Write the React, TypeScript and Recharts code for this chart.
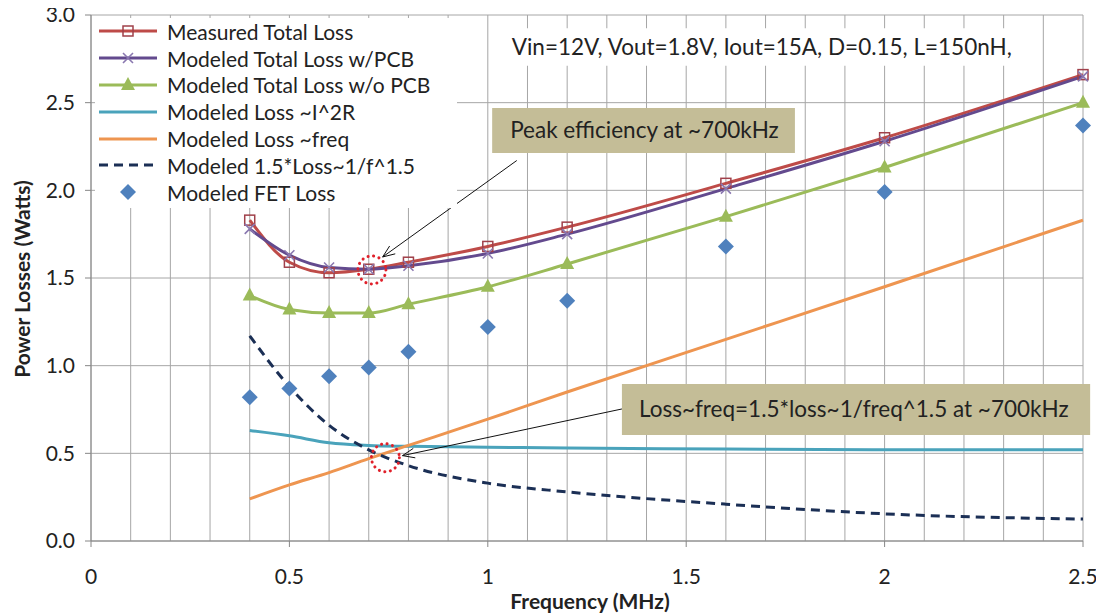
import React from 'react';
import {
  ComposedChart,
  Line,
  XAxis,
  YAxis,
  CartesianGrid,
  ReferenceArea,
  ReferenceLine,
  ReferenceDot,
} from 'recharts';

// switching frequency (MHz)
const freqs = [0.4, 0.5, 0.6, 0.7, 0.8, 1.0, 1.2, 1.6, 2.0, 2.5];

// losses (W)
const measuredTotal = [1.83, 1.59, 1.53, 1.55, 1.59, 1.68, 1.79, 2.04, 2.3, 2.66];
const modeledWithPcb = [1.78, 1.63, 1.56, 1.55, 1.57, 1.64, 1.75, 2.01, 2.28, 2.65];
const modeledWithoutPcb = [1.4, 1.32, 1.3, 1.3, 1.35, 1.45, 1.58, 1.85, 2.13, 2.5];
const lossI2R = [0.63, 0.6, 0.56, 0.545, 0.54, 0.535, 0.53, 0.525, 0.52, 0.52];
const lossFreq = [0.24, 0.32, 0.39, 0.47, 0.545, 0.695, 0.85, 1.15, 1.45, 1.83];
const lossInvFreq = [1.17, 0.88, 0.66, 0.52, 0.43, 0.33, 0.28, 0.21, 0.155, 0.125];
const fetLoss = [0.82, 0.87, 0.94, 0.99, 1.08, 1.22, 1.37, 1.68, 1.99, 2.37];

const xMajorTicks = [0, 0.5, 1, 1.5, 2, 2.5];
const xMinorTicks = [
  0, 0.1, 0.2, 0.3, 0.4, 0.5, 0.6, 0.7, 0.8, 0.9, 1, 1.1, 1.2, 1.3, 1.4, 1.5, 1.6, 1.7, 1.8, 1.9, 2, 2.1,
  2.2, 2.3, 2.4, 2.5,
];
const yTicks = [0, 0.5, 1, 1.5, 2, 2.5, 3];

const data = freqs.map((f, i) => ({
  f,
  measured: measuredTotal[i],
  withPcb: modeledWithPcb[i],
  withoutPcb: modeledWithoutPcb[i],
  i2r: lossI2R[i],
  freq: lossFreq[i],
  invFreq: lossInvFreq[i],
  fet: fetLoss[i],
}));

const FONT = 'Lato, "Open Sans", sans-serif';
const GRID = '#a6a6a6';
const AXIS = '#868686';

const C = {
  measured: '#BE4B48',
  measuredMark: '#A0404A',
  withPcb: '#634A8E',
  withPcbMark: '#8A78B0',
  withoutPcb: '#9BBB59',
  i2r: '#4AA3BB',
  freq: '#EE9550',
  invFreq: '#1B2F55',
  fet: '#4F81BD',
  callout: '#C4BD97',
  ring: '#E0202A',
};

type Marker = 'square' | 'cross' | 'triangle' | 'diamond' | 'none';

const drawMarker = (kind: Marker, cx: number, cy: number, color: string, key?: string) => {
  if (kind === 'square')
    return <rect key={key} x={cx - 5} y={cy - 5} width={10} height={10} fill="none" stroke={color} strokeWidth={1.5} />;
  if (kind === 'cross')
    return (
      <path key={key} d={`M${cx - 5},${cy - 5}L${cx + 5},${cy + 5}M${cx - 5},${cy + 5}L${cx + 5},${cy - 5}`} stroke={color} strokeWidth={1.6} />
    );
  if (kind === 'triangle')
    return <path key={key} d={`M${cx},${cy - 8}L${cx + 7},${cy + 5}L${cx - 7},${cy + 5}Z`} fill={color} />;
  if (kind === 'diamond')
    return <path key={key} d={`M${cx},${cy - 8}L${cx + 8},${cy}L${cx},${cy + 8}L${cx - 8},${cy}Z`} fill={color} />;
  return <g key={key} />;
};

const dotFn = (kind: Marker, color: string) => (p: any) =>
  p.cx == null ? <g key={p.key} /> : drawMarker(kind, p.cx, p.cy, color, p.key);

const series = [
  { key: 'measured', name: 'Measured Total Loss', color: C.measured, mark: 'square' as Marker, markColor: C.measuredMark, dash: undefined as string | undefined, width: 3 },
  { key: 'withPcb', name: 'Modeled Total Loss w/PCB', color: C.withPcb, mark: 'cross' as Marker, markColor: C.withPcbMark, dash: undefined, width: 3 },
  { key: 'withoutPcb', name: 'Modeled Total Loss w/o PCB', color: C.withoutPcb, mark: 'triangle' as Marker, markColor: C.withoutPcb, dash: undefined, width: 3 },
  { key: 'i2r', name: 'Modeled Loss ~I^2R', color: C.i2r, mark: 'none' as Marker, markColor: C.i2r, dash: undefined, width: 3 },
  { key: 'freq', name: 'Modeled Loss ~freq', color: C.freq, mark: 'none' as Marker, markColor: C.freq, dash: undefined, width: 3 },
  { key: 'invFreq', name: 'Modeled 1.5*Loss~1/f^1.5', color: C.invFreq, mark: 'none' as Marker, markColor: C.invFreq, dash: '9 6', width: 3 },
];

const XTick = (props: any) => {
  const { x, y, payload } = props;
  const v = payload.value as number;
  const major = xMajorTicks.some((t) => Math.abs(t - v) < 1e-6);
  if (!major) return <g />;
  return (
    <g>
      <line x1={x} y1={y - 8} x2={x} y2={y - 2} stroke={AXIS} />
      <text x={x} y={y + 35} textAnchor="middle" fontFamily={FONT} fontSize={21} fill="#222">
        {String(v)}
      </text>
    </g>
  );
};

const YTick = (props: any) => {
  const { x, y, payload } = props;
  return (
    <g>
      <line x1={x + 2} y1={y} x2={x + 8} y2={y} stroke={AXIS} />
      <text x={x - 8} y={y} dy="0.35em" textAnchor="end" fontFamily={FONT} fontSize={21} fill="#222">
        {(payload.value as number).toFixed(1)}
      </text>
    </g>
  );
};

const BoxLabel = (props: any) => {
  const { viewBox, text, pad = 18, size = 22.5 } = props;
  if (!viewBox) return null;
  return (
    <text
      x={viewBox.x + pad}
      y={viewBox.y + viewBox.height / 2}
      dy="0.35em"
      fontFamily={FONT}
      fontSize={size}
      fill="#222"
    >
      {text}
    </text>
  );
};

const Arrow = (p: any) => {
  const { x1, y1, x2, y2 } = p;
  const a = Math.atan2(y2 - y1, x2 - x1);
  const L = 13;
  const s = 0.38;
  const ax = x2 - L * Math.cos(a - s);
  const ay = y2 - L * Math.sin(a - s);
  const bx = x2 - L * Math.cos(a + s);
  const by = y2 - L * Math.sin(a + s);
  return (
    <g>
      <line x1={x1} y1={y1} x2={x2} y2={y2} stroke="#111" strokeWidth={1} />
      <path d={`M${ax},${ay}L${x2},${y2}L${bx},${by}`} fill="none" stroke="#111" strokeWidth={1} />
    </g>
  );
};

const Ring = (p: any) => (
  <circle
    cx={p.cx}
    cy={p.cy}
    r={14}
    fill="none"
    stroke={C.ring}
    strokeWidth={3}
    strokeDasharray="0.1 5.5"
    strokeLinecap="round"
  />
);

const LegendBox = () => (
  <div
    style={{
      position: 'absolute',
      left: 95,
      top: 18,
      width: 362,
      height: 190,
      background: '#fff',
      fontFamily: FONT,
      fontSize: 21,
      color: '#222',
    }}
  >
    {[...series, { key: 'fet', name: 'Modeled FET Loss', color: 'none', mark: 'diamond' as Marker, markColor: C.fet, dash: undefined, width: 0 }].map(
      (s) => (
        <div key={s.key} style={{ height: 26.8, display: 'flex', alignItems: 'center' }}>
          <svg width={64} height={22} style={{ flex: 'none' }}>
            {s.color !== 'none' && (
              <line x1={4} y1={11} x2={62} y2={11} stroke={s.color} strokeWidth={3} strokeDasharray={s.dash} />
            )}
            {drawMarker(s.mark, 33, 11, s.markColor)}
          </svg>
          <span style={{ marginLeft: 8, whiteSpace: 'nowrap' }}>{s.name}</span>
        </div>
      ),
    )}
  </div>
);

export default function App() {
  return (
    <div style={{ position: 'relative', width: 1104, height: 616, margin: '-8px 0 0 -8px' }}>
      <ComposedChart width={1104} height={616} data={data} margin={{ top: 15, right: 21, bottom: 0, left: 0 }}>
        <CartesianGrid stroke={GRID} />
        <XAxis
          type="number"
          dataKey="f"
          domain={[0, 2.5]}
          ticks={xMinorTicks}
          interval={0}
          height={75}
          axisLine={{ stroke: AXIS }}
          tickLine={false}
          tick={<XTick />}
          label={{
            content: (p: any) => (
              <text
                x={p.viewBox.x + p.viewBox.width / 2 + 3}
                y={p.viewBox.y + 61}
                dy="0.35em"
                textAnchor="middle"
                fontFamily={FONT}
                fontWeight="bold"
                fontSize={21}
                fill="#222"
              >
                Frequency (MHz)
              </text>
            ),
          }}
        />
        <YAxis
          type="number"
          domain={[0, 3]}
          ticks={yTicks}
          width={91}
          axisLine={{ stroke: AXIS }}
          tickLine={false}
          tick={<YTick />}
          label={{
            content: () => (
              <text
                x={21}
                y={279}
                transform="rotate(-90 21 279)"
                textAnchor="middle"
                dominantBaseline="central"
                fontFamily={FONT}
                fontWeight="bold"
                fontSize={21}
                fill="#222"
              >
                Power Losses (Watts)
              </text>
            ),
          }}
        />

        <ReferenceArea
          x1={1.03}
          x2={2.36}
          y1={2.71}
          y2={2.925}
          fill="#fff"
          fillOpacity={1}
          stroke="none"
          label={<BoxLabel text="Vin=12V, Vout=1.8V, Iout=15A, D=0.15, L=150nH," pad={12} />}
        />
        <ReferenceArea
          x1={1.011}
          x2={1.774}
          y1={2.213}
          y2={2.47}
          fill={C.callout}
          fillOpacity={1}
          stroke="none"
          label={<BoxLabel text="Peak efficiency at ~700kHz" />}
        />
        <ReferenceArea
          x1={1.338}
          x2={2.518}
          y1={0.605}
          y2={0.896}
          fill={C.callout}
          fillOpacity={1}
          stroke="none"
          ifOverflow="visible"
          label={<BoxLabel text="Loss~freq=1.5*loss~1/freq^1.5  at ~700kHz" pad={17} />}
        />

        {series.map((s) => (
          <Line
            key={s.key}
            type="monotone"
            dataKey={s.key}
            name={s.name}
            stroke={s.color}
            strokeWidth={s.width}
            strokeDasharray={s.dash}
            dot={s.mark === 'none' ? false : dotFn(s.mark, s.markColor)}
            activeDot={false}
            isAnimationActive={false}
          />
        ))}
        <Line
          dataKey="fet"
          name="Modeled FET Loss"
          stroke="none"
          dot={dotFn('diamond', C.fet)}
          activeDot={false}
          isAnimationActive={false}
        />

        <ReferenceDot x={0.708} y={1.546} shape={<Ring />} />
        <ReferenceDot x={0.742} y={0.475} shape={<Ring />} />
        <ReferenceLine segment={[{ x: 1.073, y: 2.17 }, { x: 0.735, y: 1.62 }]} shape={<Arrow />} />
        <ReferenceLine segment={[{ x: 1.338, y: 0.753 }, { x: 0.785, y: 0.487 }]} shape={<Arrow />} />
      </ComposedChart>
      <LegendBox />
    </div>
  );
}
